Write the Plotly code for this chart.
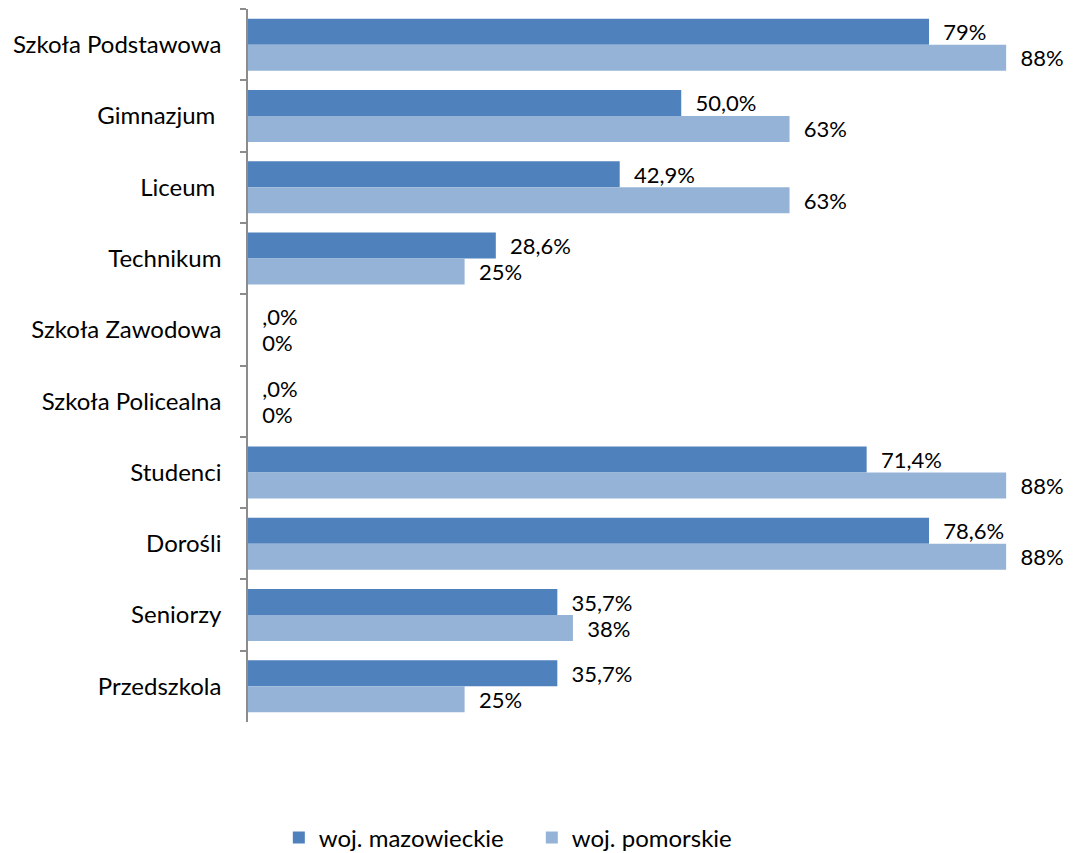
import plotly.graph_objects as go

categories = ['Szkoła Podstawowa', 'Gimnazjum\u00a0', 'Liceum\u00a0', 'Technikum', 'Szkoła Zawodowa',
              'Szkoła Policealna', 'Studenci', 'Dorośli', 'Seniorzy', 'Przedszkola']
mazowieckie = [78.6, 50.0, 42.9, 28.6, 0, 0, 71.4, 78.6, 35.7, 35.7]
mazowieckie_labels = ['79%', '50,0%', '42,9%', '28,6%', ',0%', ',0%', '71,4%', '78,6%', '35,7%', '35,7%']
pomorskie = [87.5, 62.5, 62.5, 25, 0, 0, 87.5, 87.5, 37.5, 25]
pomorskie_labels = ['88%', '63%', '63%', '25%', '0%', '0%', '88%', '88%', '38%', '25%']

font = dict(family='Lato, "Noto Sans", sans-serif', size=24, color='#000000')
label_font = dict(family='Lato, "Noto Sans", sans-serif', size=22, color='#000000')

fig = go.Figure()
fig.add_trace(go.Bar(
    y=categories, x=mazowieckie, orientation='h', name='woj. mazowieckie',
    marker=dict(color='#4F81BD', line=dict(width=0)),
    text=['  ' + t for t in mazowieckie_labels], textposition='outside',
    textfont=label_font, constraintext='none', cliponaxis=False,
))
fig.add_trace(go.Bar(
    y=categories, x=pomorskie, orientation='h', name='woj. pomorskie',
    marker=dict(color='#95B3D7', line=dict(width=0)),
    text=['  ' + t for t in pomorskie_labels], textposition='outside',
    textfont=label_font, constraintext='none', cliponaxis=False,
))

fig.update_layout(
    width=1073, height=853,
    margin=dict(l=240, r=22, t=1, b=135),
    barmode='group', bargap=0.27, bargroupgap=0,
    plot_bgcolor='white', paper_bgcolor='white',
    font=font,
    legend=dict(orientation='h', x=0.038, xanchor='left', y=-0.131, yanchor='top',
                font=font, entrywidth=208, traceorder='normal'),
    showlegend=True,
)
fig.update_xaxes(range=[0, 93.6], visible=False, showgrid=False, automargin=False)
fig.update_yaxes(
    categoryorder='array', categoryarray=categories, autorange='reversed',
    showline=True, linecolor='#8c8c8c', linewidth=1.5,
    ticks='outside', tickson='boundaries', ticklen=6, tickcolor='#8c8c8c', tickwidth=1.5,
    ticklabelstandoff=20, showgrid=False, tickfont=font, automargin=False,
)

fig.write_html('out.html')
